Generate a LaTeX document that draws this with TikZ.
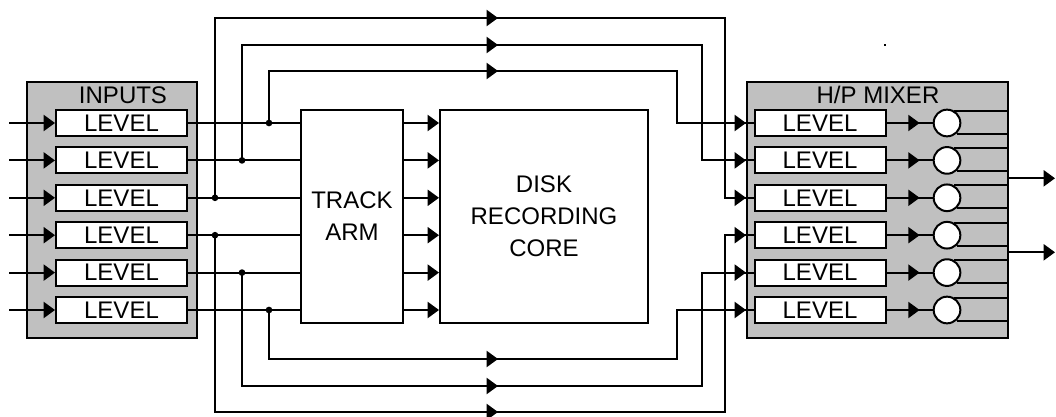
\documentclass[tikz,border=0pt]{standalone}
\usepackage{fontspec}
\setmainfont{Liberation Sans}
\usetikzlibrary{arrows.meta,calc}
\definecolor{panelgray}{RGB}{192,192,192}

\begin{document}
\begin{tikzpicture}[x=0.75pt,y=-0.75pt,line width=1.5pt,
  every node/.style={font=\fontsize{18}{24}\selectfont},
  panel/.style={draw, fill=panelgray, minimum width=#1, minimum height=192pt, inner sep=0pt},
  level/.style={draw, fill=white, minimum width=98.25pt, minimum height=19.5pt, inner sep=0pt},
  block/.style={draw, fill=white, inner sep=0pt, minimum height=159.75pt, align=center},
  sum/.style={draw, fill=white, circle, minimum size=20pt, inner sep=0pt},
  tapdot/.style={circle, fill=black, inner sep=0pt, minimum size=5pt},
  tip/.style={-{Triangle[length=8.5pt,width=12pt]}}]
\useasboundingbox (0,0) rectangle (1056,417);

% panels and main blocks
\node[panel=127.5pt] (inbox) at (112,210) {};
\node (intitle) at (123,95) {INPUTS};
\node[panel=195.75pt] (mixbox) at (877.5,210) {};
\node (mixtitle) at (878,95) {H/P MIXER};
\node[block, minimum width=76.5pt] (arm) at (352,216.5) {TRACK\\ARM};
\node[block, minimum width=156pt] (core) at (544,216.5) {DISK\\RECORDING\\CORE};
\node[fill=black, inner sep=0pt, minimum size=1.5pt] (speck) at (885,45) {};

% six channels: row / y / tap x / loop y / return x
\foreach \i/\y/\tx/\ly/\rx in {1/123/269/71/677, 2/160.4/242/45/702, 3/197.8/215/18/725,
                               4/235.2/215/412/725, 5/272.6/242/386/702, 6/310/269/359/677} {
  \node[level] (inlev\i) at (121.5,\y) {LEVEL};
  \node[level] (mixlev\i) at (820,\y) {LEVEL};
  \node[sum] (sum\i) at (947,\y) {};
  \coordinate (in\i) at (9,\y);
  \coordinate (tap\i) at (\tx,\y);
  \coordinate (turn\i) at (\rx,\ly);
  \coordinate (mid\i) at (498,\ly);

  % input side
  \draw[tip] (in\i) -- (inlev\i.west);
  \draw (inlev\i.east) -- (arm.west |- inlev\i.east);
  \draw[tip] (arm.east |- inlev\i.east) -- (core.west |- inlev\i.east);

  % monitor loop round the recorder
  \draw (tap\i) |- (turn\i) |- (mixlev\i.west);
  \draw[tip] ($(mid\i)+(-3,0)$) -- (mid\i);
  \draw[tip] ($(mixbox.west |- mixlev\i.west)+(-3,0)$) -- (mixbox.west |- mixlev\i.west);
  \node[tapdot] (dot\i) at (tap\i) {};

  % mixer side
  \draw (mixlev\i.east) -- (sum\i.west);
  \draw[tip] (mixlev\i.east) -- ($(sum\i.west)+(-13,0)$);
  \draw (sum\i.60) -- (sum\i.60 -| mixbox.east);
  \draw (sum\i.-48) -- (sum\i.-48 -| mixbox.east);
}

% stereo outputs
\coordinate (out1) at (1055,178.3);
\coordinate (out2) at (1055,252.3);
\draw[tip] (mixbox.east |- out1) -- (out1);
\draw[tip] (mixbox.east |- out2) -- (out2);
\end{tikzpicture}
\end{document}
